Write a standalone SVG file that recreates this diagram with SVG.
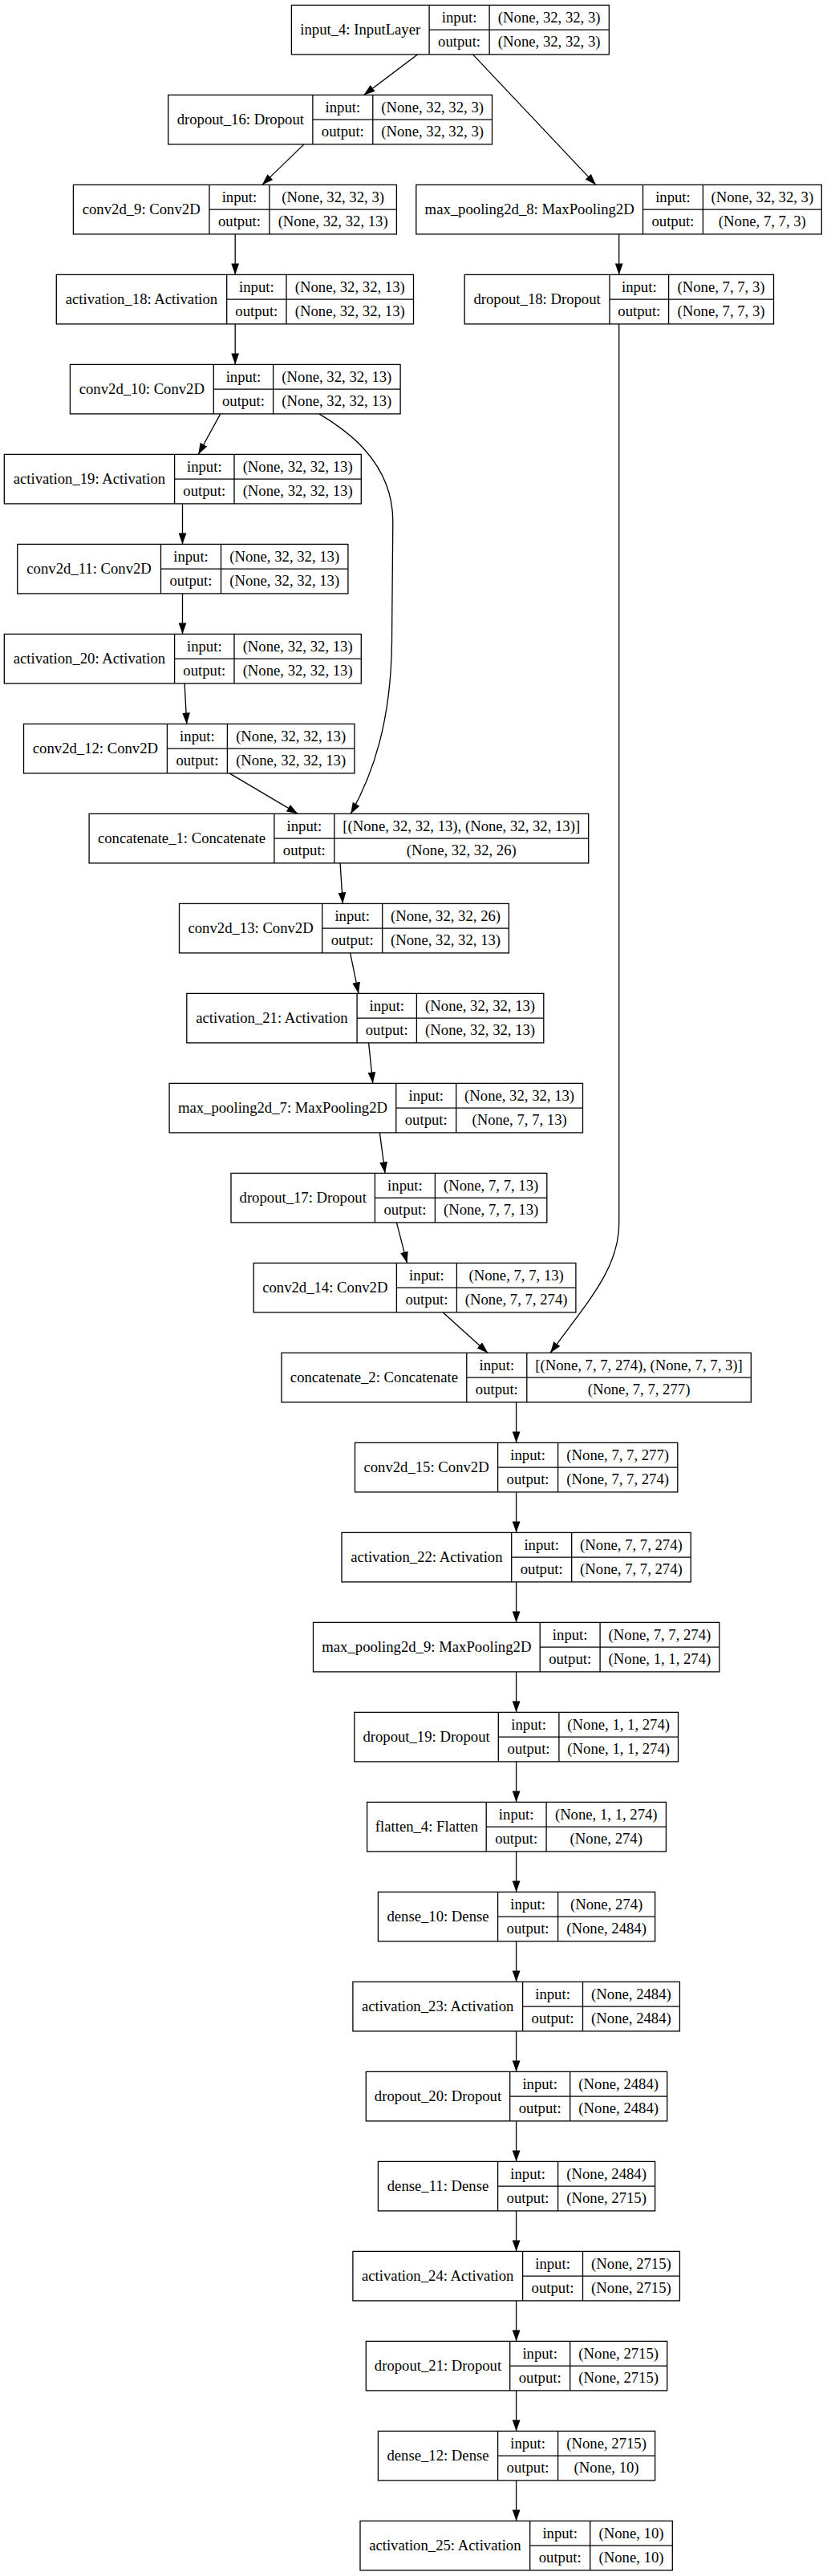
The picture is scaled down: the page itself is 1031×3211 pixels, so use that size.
<svg xmlns="http://www.w3.org/2000/svg" width="1031" height="3211" viewBox="0 0 1031 3211">
<style>
.bx{fill:#fff;stroke:#000;stroke-width:1.3}
.ln{fill:none;stroke:#000;stroke-width:1.3}
text{font-family:"Liberation Serif","Times New Roman",serif;font-size:18.7px;text-anchor:middle;fill:#000}
.e{fill:none;stroke:#000;stroke-width:1.3;marker-end:url(#ah)}
</style>
<defs>
<marker id="ah" markerUnits="userSpaceOnUse" markerWidth="14" markerHeight="10" viewBox="0 0 13.4 9.4" refX="13.4" refY="4.7" orient="auto"><path d="M0,0 L13.4,4.7 L0,9.4 z" fill="#000"/></marker>
</defs>
<rect width="1031" height="3211" fill="#fff"/>

<g id="connectors">
<path class="e" d="M520.5,67.9 L453.5,118.4"/>
<path class="e" d="M589.5,67.9 L742.9,230.4"/>
<path class="e" d="M379,179.9 L326.8,230.4"/>
<path class="e" d="M293.2,291.9 L293.2,342.4"/>
<path class="e" d="M771.7,291.9 L771.7,342.4"/>
<path class="e" d="M293.2,403.9 L293.2,454.4"/>
<path class="e" d="M771.7,403.9 L771.7,1525 C771.7,1580 735,1620 686,1686.4"/>
<path class="e" d="M274.8,515.9 L247.2,566.4"/>
<path class="e" d="M397.8,515.9 C430,535 489.8,575 489.8,650 L488.5,800 C487.5,900 465,965 437.2,1014.4"/>
<path class="e" d="M227.5,627.9 L227.5,678.4"/>
<path class="e" d="M227.5,739.9 L227.5,790.4"/>
<path class="e" d="M230.1,851.9 L232.8,902.4"/>
<path class="e" d="M286,963.9 L371.4,1014.4"/>
<path class="e" d="M424.1,1075.9 L427.3,1126.4"/>
<path class="e" d="M436.6,1187.9 L447,1238.4"/>
<path class="e" d="M459.6,1299.9 L464.8,1350.4"/>
<path class="e" d="M473.4,1411.9 L480,1462.4"/>
<path class="e" d="M494.4,1523.9 L507.5,1574.4"/>
<path class="e" d="M552.3,1635.9 L608.2,1686.4"/>
<path class="e" d="M643.6,1747.9 L643.6,1798.4"/>
<path class="e" d="M643.6,1859.9 L643.6,1910.4"/>
<path class="e" d="M643.6,1971.9 L643.6,2022.4"/>
<path class="e" d="M643.6,2083.9 L643.6,2134.4"/>
<path class="e" d="M643.6,2195.9 L643.6,2246.4"/>
<path class="e" d="M643.6,2307.9 L643.6,2358.4"/>
<path class="e" d="M643.6,2419.9 L643.6,2470.4"/>
<path class="e" d="M643.6,2531.9 L643.6,2582.4"/>
<path class="e" d="M643.6,2643.9 L643.6,2694.4"/>
<path class="e" d="M643.6,2755.9 L643.6,2806.4"/>
<path class="e" d="M643.6,2867.9 L643.6,2918.4"/>
<path class="e" d="M643.6,2979.9 L643.6,3030.4"/>
<path class="e" d="M643.6,3091.9 L643.6,3142.4"/>
</g>

<g id="input_4" transform="translate(0,6.4)">
<rect class="bx" x="363.4" y="0" width="395.9" height="61.5"/>
<path class="ln" d="M535.1,0V61.5M610.1,0V61.5M535.1,30.75H759.3"/>
<text x="449.25" y="36.6">input_4: InputLayer</text>
<text x="572.6" y="21.2">input:</text><text x="572.6" y="52">output:</text>
<text x="684.7" y="21.2">(None, 32, 32, 3)</text><text x="684.7" y="52">(None, 32, 32, 3)</text>
</g>

<g id="dropout_16" transform="translate(0,118.4)">
<rect class="bx" x="209.7" y="0" width="403.8" height="61.5"/>
<path class="ln" d="M389.9,0V61.5M464.8,0V61.5M389.9,30.75H613.5"/>
<text x="299.8" y="36.6">dropout_16: Dropout</text>
<text x="427.35" y="21.2">input:</text><text x="427.35" y="52">output:</text>
<text x="539.15" y="21.2">(None, 32, 32, 3)</text><text x="539.15" y="52">(None, 32, 32, 3)</text>
</g>

<g id="conv2d_9" transform="translate(0,230.4)">
<rect class="bx" x="91.4" y="0" width="403" height="61.5"/>
<path class="ln" d="M261,0V61.5M335.9,0V61.5M261,30.75H494.4"/>
<text x="176.2" y="36.6">conv2d_9: Conv2D</text>
<text x="298.45" y="21.2">input:</text><text x="298.45" y="52">output:</text>
<text x="415.15" y="21.2">(None, 32, 32, 3)</text><text x="415.15" y="52">(None, 32, 32, 13)</text>
</g>

<g id="max_pooling2d_8" transform="translate(0,230.4)">
<rect class="bx" x="518.8" y="0" width="505.5" height="61.5"/>
<path class="ln" d="M801.5,0V61.5M876.4,0V61.5M801.5,30.75H1024.3"/>
<text x="660.15" y="36.6">max_pooling2d_8: MaxPooling2D</text>
<text x="838.95" y="21.2">input:</text><text x="838.95" y="52">output:</text>
<text x="950.35" y="21.2">(None, 32, 32, 3)</text><text x="950.35" y="52">(None, 7, 7, 3)</text>
</g>

<g id="activation_18" transform="translate(0,342.4)">
<rect class="bx" x="70.3" y="0" width="445.2" height="61.5"/>
<path class="ln" d="M282.7,0V61.5M357,0V61.5M282.7,30.75H515.5"/>
<text x="176.5" y="36.6">activation_18: Activation</text>
<text x="319.85" y="21.2">input:</text><text x="319.85" y="52">output:</text>
<text x="436.25" y="21.2">(None, 32, 32, 13)</text><text x="436.25" y="52">(None, 32, 32, 13)</text>
</g>

<g id="dropout_18" transform="translate(0,342.4)">
<rect class="bx" x="579.2" y="0" width="385.3" height="61.5"/>
<path class="ln" d="M760,0V61.5M833.6,0V61.5M760,30.75H964.5"/>
<text x="669.6" y="36.6">dropout_18: Dropout</text>
<text x="796.8" y="21.2">input:</text><text x="796.8" y="52">output:</text>
<text x="899.05" y="21.2">(None, 7, 7, 3)</text><text x="899.05" y="52">(None, 7, 7, 3)</text>
</g>

<g id="conv2d_10" transform="translate(0,454.4)">
<rect class="bx" x="87.4" y="0" width="411.7" height="61.5"/>
<path class="ln" d="M266.3,0V61.5M340.6,0V61.5M266.3,30.75H499.1"/>
<text x="176.85" y="36.6">conv2d_10: Conv2D</text>
<text x="303.45" y="21.2">input:</text><text x="303.45" y="52">output:</text>
<text x="419.85" y="21.2">(None, 32, 32, 13)</text><text x="419.85" y="52">(None, 32, 32, 13)</text>
</g>

<g id="activation_19" transform="translate(0,566.4)">
<rect class="bx" x="5.3" y="0" width="445" height="61.5"/>
<path class="ln" d="M217.6,0V61.5M292,0V61.5M217.6,30.75H450.3"/>
<text x="111.45" y="36.6">activation_19: Activation</text>
<text x="254.8" y="21.2">input:</text><text x="254.8" y="52">output:</text>
<text x="371.15" y="21.2">(None, 32, 32, 13)</text><text x="371.15" y="52">(None, 32, 32, 13)</text>
</g>

<g id="conv2d_11" transform="translate(0,678.4)">
<rect class="bx" x="21.7" y="0" width="412.2" height="61.5"/>
<path class="ln" d="M200.5,0V61.5M275.5,0V61.5M200.5,30.75H433.9"/>
<text x="111.1" y="36.6">conv2d_11: Conv2D</text>
<text x="238" y="21.2">input:</text><text x="238" y="52">output:</text>
<text x="354.7" y="21.2">(None, 32, 32, 13)</text><text x="354.7" y="52">(None, 32, 32, 13)</text>
</g>

<g id="activation_20" transform="translate(0,790.4)">
<rect class="bx" x="5.3" y="0" width="445" height="61.5"/>
<path class="ln" d="M217.6,0V61.5M292,0V61.5M217.6,30.75H450.3"/>
<text x="111.45" y="36.6">activation_20: Activation</text>
<text x="254.8" y="21.2">input:</text><text x="254.8" y="52">output:</text>
<text x="371.15" y="21.2">(None, 32, 32, 13)</text><text x="371.15" y="52">(None, 32, 32, 13)</text>
</g>

<g id="conv2d_12" transform="translate(0,902.4)">
<rect class="bx" x="29.5" y="0" width="412.4" height="61.5"/>
<path class="ln" d="M208.4,0V61.5M283.4,0V61.5M208.4,30.75H441.9"/>
<text x="118.95" y="36.6">conv2d_12: Conv2D</text>
<text x="245.9" y="21.2">input:</text><text x="245.9" y="52">output:</text>
<text x="362.65" y="21.2">(None, 32, 32, 13)</text><text x="362.65" y="52">(None, 32, 32, 13)</text>
</g>

<g id="concatenate_1" transform="translate(0,1014.4)">
<rect class="bx" x="111.1" y="0" width="622.6" height="61.5"/>
<path class="ln" d="M341.9,0V61.5M416.8,0V61.5M341.9,30.75H733.7"/>
<text x="226.5" y="36.6">concatenate_1: Concatenate</text>
<text x="379.35" y="21.2">input:</text><text x="379.35" y="52">output:</text>
<text x="575.25" y="21.2">[(None, 32, 32, 13), (None, 32, 32, 13)]</text><text x="575.25" y="52">(None, 32, 32, 26)</text>
</g>

<g id="conv2d_13" transform="translate(0,1126.4)">
<rect class="bx" x="223.5" y="0" width="410.9" height="61.5"/>
<path class="ln" d="M401.7,0V61.5M476.7,0V61.5M401.7,30.75H634.4"/>
<text x="312.6" y="36.6">conv2d_13: Conv2D</text>
<text x="439.2" y="21.2">input:</text><text x="439.2" y="52">output:</text>
<text x="555.55" y="21.2">(None, 32, 32, 26)</text><text x="555.55" y="52">(None, 32, 32, 13)</text>
</g>

<g id="activation_21" transform="translate(0,1238.4)">
<rect class="bx" x="232.8" y="0" width="445" height="61.5"/>
<path class="ln" d="M445.1,0V61.5M519.4,0V61.5M445.1,30.75H677.8"/>
<text x="338.95" y="36.6">activation_21: Activation</text>
<text x="482.25" y="21.2">input:</text><text x="482.25" y="52">output:</text>
<text x="598.6" y="21.2">(None, 32, 32, 13)</text><text x="598.6" y="52">(None, 32, 32, 13)</text>
</g>

<g id="max_pooling2d_7" transform="translate(0,1350.4)">
<rect class="bx" x="211.1" y="0" width="515.4" height="61.5"/>
<path class="ln" d="M493.8,0V61.5M568.7,0V61.5M493.8,30.75H726.5"/>
<text x="352.45" y="36.6">max_pooling2d_7: MaxPooling2D</text>
<text x="531.25" y="21.2">input:</text><text x="531.25" y="52">output:</text>
<text x="647.6" y="21.2">(None, 32, 32, 13)</text><text x="647.6" y="52">(None, 7, 7, 13)</text>
</g>

<g id="dropout_17" transform="translate(0,1462.4)">
<rect class="bx" x="288" y="0" width="393.8" height="61.5"/>
<path class="ln" d="M467.4,0V61.5M542.4,0V61.5M467.4,30.75H681.8"/>
<text x="377.7" y="36.6">dropout_17: Dropout</text>
<text x="504.9" y="21.2">input:</text><text x="504.9" y="52">output:</text>
<text x="612.1" y="21.2">(None, 7, 7, 13)</text><text x="612.1" y="52">(None, 7, 7, 13)</text>
</g>

<g id="conv2d_14" transform="translate(0,1574.4)">
<rect class="bx" x="316.2" y="0" width="401.7" height="61.5"/>
<path class="ln" d="M494.4,0V61.5M569.4,0V61.5M494.4,30.75H717.9"/>
<text x="405.3" y="36.6">conv2d_14: Conv2D</text>
<text x="531.9" y="21.2">input:</text><text x="531.9" y="52">output:</text>
<text x="643.65" y="21.2">(None, 7, 7, 13)</text><text x="643.65" y="52">(None, 7, 7, 274)</text>
</g>

<g id="concatenate_2" transform="translate(0,1686.4)">
<rect class="bx" x="351" y="0" width="585.3" height="61.5"/>
<path class="ln" d="M581.8,0V61.5M656.8,0V61.5M581.8,30.75H936.3"/>
<text x="466.4" y="36.6">concatenate_2: Concatenate</text>
<text x="619.3" y="21.2">input:</text><text x="619.3" y="52">output:</text>
<text x="796.55" y="21.2">[(None, 7, 7, 274), (None, 7, 7, 3)]</text><text x="796.55" y="52">(None, 7, 7, 277)</text>
</g>

<g id="conv2d_15" transform="translate(0,1798.4)">
<rect class="bx" x="442.5" y="0" width="402.3" height="61.5"/>
<path class="ln" d="M620.6,0V61.5M695.6,0V61.5M620.6,30.75H844.8"/>
<text x="531.55" y="36.6">conv2d_15: Conv2D</text>
<text x="658.1" y="21.2">input:</text><text x="658.1" y="52">output:</text>
<text x="770.2" y="21.2">(None, 7, 7, 277)</text><text x="770.2" y="52">(None, 7, 7, 274)</text>
</g>

<g id="activation_22" transform="translate(0,1910.4)">
<rect class="bx" x="426" y="0" width="435.2" height="61.5"/>
<path class="ln" d="M637.7,0V61.5M712.7,0V61.5M637.7,30.75H861.2"/>
<text x="531.85" y="36.6">activation_22: Activation</text>
<text x="675.2" y="21.2">input:</text><text x="675.2" y="52">output:</text>
<text x="786.95" y="21.2">(None, 7, 7, 274)</text><text x="786.95" y="52">(None, 7, 7, 274)</text>
</g>

<g id="max_pooling2d_9" transform="translate(0,2022.4)">
<rect class="bx" x="390.5" y="0" width="506.3" height="61.5"/>
<path class="ln" d="M673.2,0V61.5M748.1,0V61.5M673.2,30.75H896.8"/>
<text x="531.85" y="36.6">max_pooling2d_9: MaxPooling2D</text>
<text x="710.65" y="21.2">input:</text><text x="710.65" y="52">output:</text>
<text x="822.45" y="21.2">(None, 7, 7, 274)</text><text x="822.45" y="52">(None, 1, 1, 274)</text>
</g>

<g id="dropout_19" transform="translate(0,2134.4)">
<rect class="bx" x="441.8" y="0" width="403.7" height="61.5"/>
<path class="ln" d="M621.3,0V61.5M696.9,0V61.5M621.3,30.75H845.5"/>
<text x="531.55" y="36.6">dropout_19: Dropout</text>
<text x="659.1" y="21.2">input:</text><text x="659.1" y="52">output:</text>
<text x="771.2" y="21.2">(None, 1, 1, 274)</text><text x="771.2" y="52">(None, 1, 1, 274)</text>
</g>

<g id="flatten_4" transform="translate(0,2246.4)">
<rect class="bx" x="457.6" y="0" width="372.8" height="61.5"/>
<path class="ln" d="M606.2,0V61.5M681.1,0V61.5M606.2,30.75H830.4"/>
<text x="531.9" y="36.6">flatten_4: Flatten</text>
<text x="643.65" y="21.2">input:</text><text x="643.65" y="52">output:</text>
<text x="755.75" y="21.2">(None, 1, 1, 274)</text><text x="755.75" y="52">(None, 274)</text>
</g>

<g id="dense_10" transform="translate(0,2358.4)">
<rect class="bx" x="471.4" y="0" width="345.2" height="61.5"/>
<path class="ln" d="M620.6,0V61.5M695.6,0V61.5M620.6,30.75H816.6"/>
<text x="546" y="36.6">dense_10: Dense</text>
<text x="658.1" y="21.2">input:</text><text x="658.1" y="52">output:</text>
<text x="756.1" y="21.2">(None, 274)</text><text x="756.1" y="52">(None, 2484)</text>
</g>

<g id="activation_23" transform="translate(0,2470.4)">
<rect class="bx" x="439.9" y="0" width="407.5" height="61.5"/>
<path class="ln" d="M651.6,0V61.5M726.5,0V61.5M651.6,30.75H847.4"/>
<text x="545.75" y="36.6">activation_23: Activation</text>
<text x="689.05" y="21.2">input:</text><text x="689.05" y="52">output:</text>
<text x="786.95" y="21.2">(None, 2484)</text><text x="786.95" y="52">(None, 2484)</text>
</g>

<g id="dropout_20" transform="translate(0,2582.4)">
<rect class="bx" x="456.3" y="0" width="375.4" height="61.5"/>
<path class="ln" d="M635.7,0V61.5M710.7,0V61.5M635.7,30.75H831.7"/>
<text x="546" y="36.6">dropout_20: Dropout</text>
<text x="673.2" y="21.2">input:</text><text x="673.2" y="52">output:</text>
<text x="771.2" y="21.2">(None, 2484)</text><text x="771.2" y="52">(None, 2484)</text>
</g>

<g id="dense_11" transform="translate(0,2694.4)">
<rect class="bx" x="471.4" y="0" width="345.2" height="61.5"/>
<path class="ln" d="M620.6,0V61.5M695.6,0V61.5M620.6,30.75H816.6"/>
<text x="546" y="36.6">dense_11: Dense</text>
<text x="658.1" y="21.2">input:</text><text x="658.1" y="52">output:</text>
<text x="756.1" y="21.2">(None, 2484)</text><text x="756.1" y="52">(None, 2715)</text>
</g>

<g id="activation_24" transform="translate(0,2806.4)">
<rect class="bx" x="439.9" y="0" width="407.5" height="61.5"/>
<path class="ln" d="M651.6,0V61.5M726.5,0V61.5M651.6,30.75H847.4"/>
<text x="545.75" y="36.6">activation_24: Activation</text>
<text x="689.05" y="21.2">input:</text><text x="689.05" y="52">output:</text>
<text x="786.95" y="21.2">(None, 2715)</text><text x="786.95" y="52">(None, 2715)</text>
</g>

<g id="dropout_21" transform="translate(0,2918.4)">
<rect class="bx" x="456.3" y="0" width="375.4" height="61.5"/>
<path class="ln" d="M635.7,0V61.5M710.7,0V61.5M635.7,30.75H831.7"/>
<text x="546" y="36.6">dropout_21: Dropout</text>
<text x="673.2" y="21.2">input:</text><text x="673.2" y="52">output:</text>
<text x="771.2" y="21.2">(None, 2715)</text><text x="771.2" y="52">(None, 2715)</text>
</g>

<g id="dense_12" transform="translate(0,3030.4)">
<rect class="bx" x="471.4" y="0" width="345.2" height="61.5"/>
<path class="ln" d="M620.6,0V61.5M695.6,0V61.5M620.6,30.75H816.6"/>
<text x="546" y="36.6">dense_12: Dense</text>
<text x="658.1" y="21.2">input:</text><text x="658.1" y="52">output:</text>
<text x="756.1" y="21.2">(None, 2715)</text><text x="756.1" y="52">(None, 10)</text>
</g>

<g id="activation_25" transform="translate(0,3142.4)">
<rect class="bx" x="449" y="0" width="389.3" height="61.5"/>
<path class="ln" d="M660.7,0V61.5M735.7,0V61.5M660.7,30.75H838.3"/>
<text x="554.85" y="36.6">activation_25: Activation</text>
<text x="698.2" y="21.2">input:</text><text x="698.2" y="52">output:</text>
<text x="787" y="21.2">(None, 10)</text><text x="787" y="52">(None, 10)</text>
</g>
</svg>
